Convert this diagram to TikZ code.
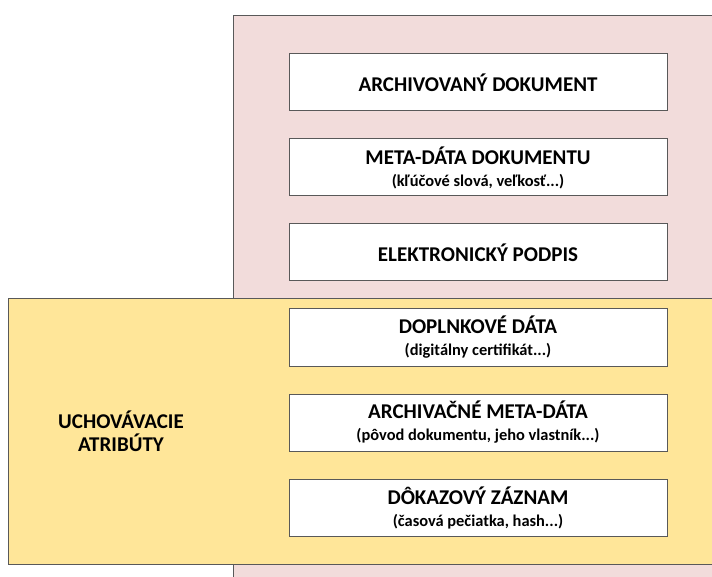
\documentclass[tikz,border=0pt]{standalone}
\usepackage{fontspec}
\setmainfont{Carlito}
\usetikzlibrary{positioning}
\definecolor{pinkbg}{HTML}{F2DCDB}
\definecolor{yellowbg}{HTML}{FFE699}
\definecolor{framegray}{HTML}{595959}
\tikzstyle{layer}=[draw=framegray, line width=1pt]
\tikzstyle{item}=[rectangle, draw=framegray, fill=white, line width=1pt, minimum width=378pt, minimum height=57pt, inner sep=0pt, align=center, font=\fontsize{21}{24}\selectfont\bfseries]
\tikzstyle{groupname}=[align=center, font=\fontsize{21}{23}\selectfont\bfseries]
\newcommand{\sub}[1]{\\[-2pt]{\fontsize{16.4}{18}\selectfont #1}}

\begin{document}
\begin{tikzpicture}[x=1pt, y=-1pt]

    % Frame of the page
    \clip (0,0) rectangle (712,577);

    % First we draw the two layers
    \fill[pinkbg] (233,16) rectangle (730,600);
    \draw[layer] (730,16) -- (233,16) -- (233,600);
    \filldraw[layer, fill=yellowbg] (730,299) -- (8,299) -- (8,564) -- (730,564);

    % Then the boxes of the archive
    \foreach \pos/\name/\label in {{(478,82.5)/doc/ARCHIVOVANÝ DOKUMENT}, {(478,167.5)/meta/META-DÁTA DOKUMENTU\sub{(kľúčové slová, veľkosť...)}}, {(478,252.5)/sign/ELEKTRONICKÝ PODPIS}, {(478,337.5)/extra/DOPLNKOVÉ DÁTA\sub{(digitálny certifikát...)}}, {(478,422.5)/archmeta/ARCHIVAČNÉ META-DÁTA\sub{(pôvod dokumentu, jeho vlastník...)}}, {(478,507.5)/evidence/DÔKAZOVÝ ZÁZNAM\sub{(časová pečiatka, hash...)}}}
        \node[item] (\name) at \pos {\label};

    % Name of the yellow layer
    \node[groupname] (attr) at (121,431) {UCHOVÁVACIE\\ATRIBÚTY};

\end{tikzpicture}
\end{document}
